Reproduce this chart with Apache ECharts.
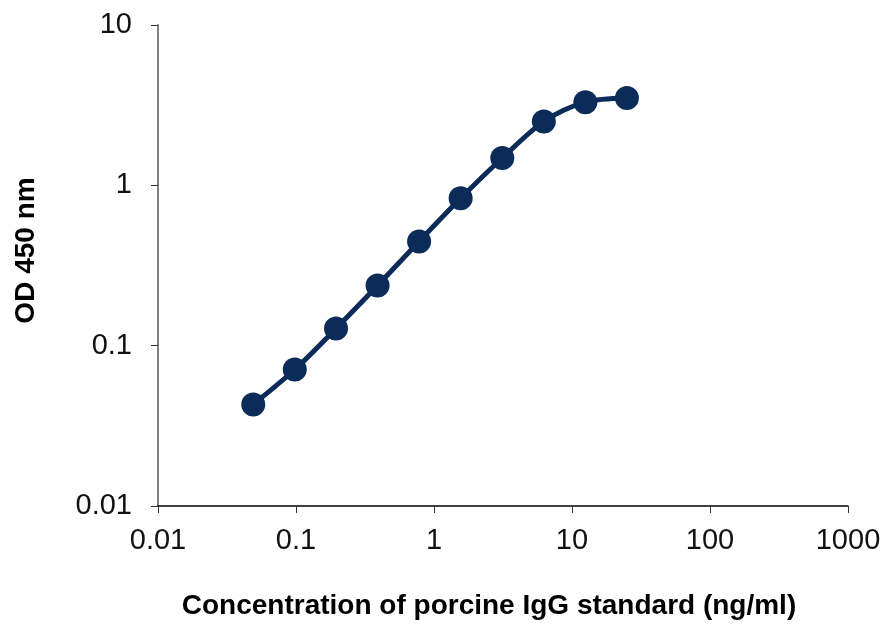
<!DOCTYPE html>
<html>
<head>
<meta charset="utf-8">
<script src="https://cdn.jsdelivr.net/npm/echarts@6/dist/echarts.min.js"></script>
<style>
  html, body { margin: 0; padding: 0; background: #fff; }
  #chart { width: 885px; height: 628px; }
</style>
</head>
<body>
<div id="chart"></div>
<script>
// 标准曲线数据 (ng/ml -> OD450)
const concentrations = [0.049, 0.098, 0.195, 0.39, 0.78, 1.56, 3.125, 6.25, 12.5, 25];
const odValues = [0.043, 0.071, 0.128, 0.237, 0.447, 0.83, 1.48, 2.5, 3.3, 3.5];

const lineColor = '#0b2b58';
const font = "'Liberation Sans', Arial, sans-serif";

const chart = echarts.init(document.getElementById('chart'));
const option = {
  animation: false,
  grid: { left: 158, right: 37, top: 25, bottom: 122 },
  xAxis: {
    type: 'log',
    logBase: 10,
    min: 0.01,
    max: 1000,
    name: 'Concentration of porcine IgG standard (ng/ml)',
    nameLocation: 'middle',
    nameGap: 86,
    nameTextStyle: { fontFamily: font, fontSize: 28, fontWeight: 'bold', color: '#000', padding: [0, 28, 0, 0] },
    axisLine: { lineStyle: { color: '#000', width: 1.5 } },
    axisTick: { show: true, length: 7, lineStyle: { color: '#333' } },
    axisLabel: { fontFamily: font, fontSize: 29, color: '#111', margin: 20, formatter: v => String(v) },
    splitLine: { show: false }
  },
  yAxis: {
    type: 'log',
    logBase: 10,
    min: 0.01,
    max: 10,
    name: 'OD 450 nm',
    nameLocation: 'middle',
    nameGap: 118,
    nameRotate: 90,
    nameTextStyle: { fontFamily: font, fontSize: 28, fontWeight: 'bold', color: '#000', padding: [0, 0, 0, 30] },
    axisLine: { show: true, lineStyle: { color: '#808080', width: 2 } },
    axisTick: { show: true, length: 7, lineStyle: { color: '#333' } },
    axisLabel: { fontFamily: font, fontSize: 29, color: '#111', margin: 26, formatter: v => String(v) },
    splitLine: { show: false }
  },
  series: [{
    type: 'line',
    data: concentrations.map((c, i) => [c, odValues[i]]),
    smooth: 0.3,
    symbol: 'circle',
    symbolSize: 24,
    itemStyle: { color: lineColor },
    lineStyle: { color: lineColor, width: 5 }
  }]
};
chart.setOption(option);
</script>
</body>
</html>
